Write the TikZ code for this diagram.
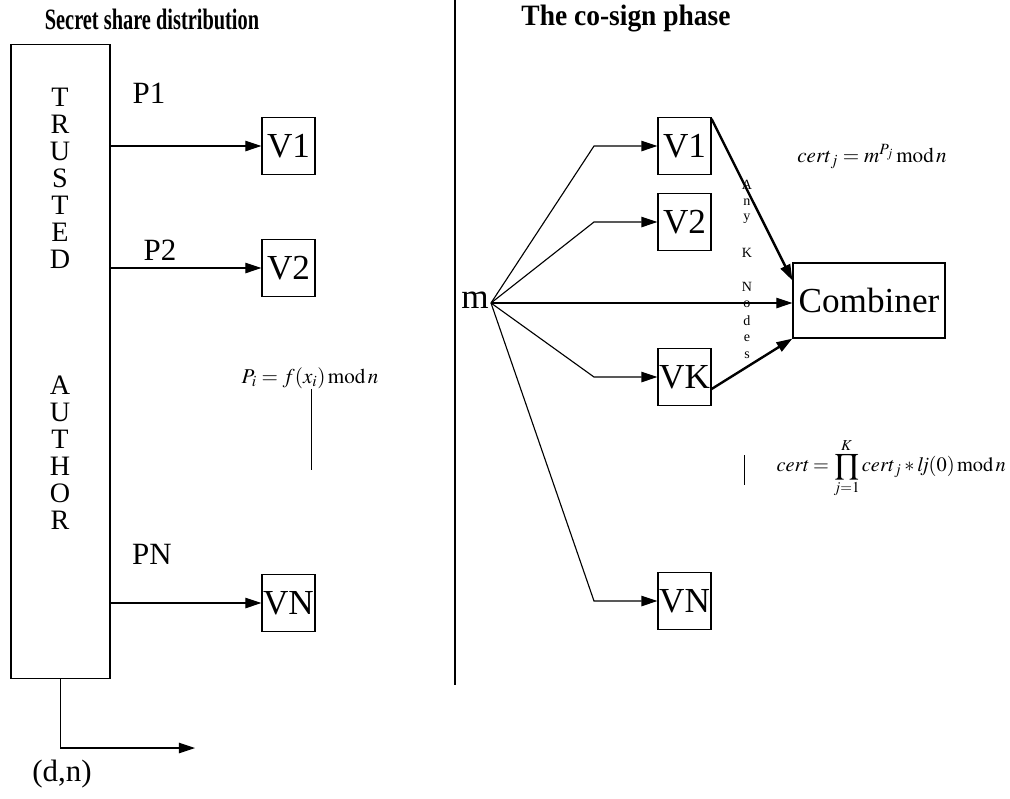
\documentclass[tikz,border=0pt]{standalone}
\usepackage{mathptmx}
\usepackage{fontspec}
\setmainfont{Liberation Serif}
\usepackage{graphicx}
\usetikzlibrary{arrows.meta}

\begin{document}
\begin{tikzpicture}[x = 0.025cm,
    y = -0.025cm,
    line width = 0.8pt,
    >={Triangle[length=4mm,width=2.6mm]}]
    % styles of boxes and texts
    \tikzset{vbox/.style={draw,minimum width=13.25mm,minimum height=14.25mm,inner sep=0pt,font=\fontsize{25}{25}\selectfont},
      plabel/.style={inner sep=0pt,font=\fontsize{22}{22}\selectfont},
      titlestyle/.style={inner sep=0pt,font=\bfseries\fontsize{21}{21}\selectfont},
      letterstyle/.style={inner sep=0pt,font=\fontsize{20}{20}\selectfont},
      smallletter/.style={inner sep=0pt,font=\fontsize{10}{10}\selectfont},
      formula/.style={inner sep=0pt,font=\fontsize{15}{15}\selectfont},
      thickarrow/.style={->,line width=1.7pt}}
    \useasboundingbox (0,0) rectangle (1010,798);
    % titles
    \node[titlestyle] (title1) at (152,19) {\scalebox{0.69}[1]{Secret share distribution}};
    \node[titlestyle] (title2) at (626,19) {\scalebox{0.93}[1]{The co-sign phase}};
    % divider
    \coordinate (divtop) at (455,0);
    \coordinate (divbot) at (455,685);
    \draw (divtop) -- (divbot);
    % box "trusted author"
    \node[draw,minimum width=24.75mm,minimum height=158.25mm,inner sep=0pt] (ta) at (60.5,361.5) {};
    \foreach \ch [count=\i] in {T,R,U,S,T,E,D}
      \node[letterstyle] (tup\i) at (60,70+27*\i) {\ch};
    \foreach \ch [count=\i] in {A,U,T,H,O,R}
      \node[letterstyle] (tlo\i) at (60,358+27*\i) {\ch};
    % shares to the nodes
    \node[vbox] (lv1) at (288.5,146) {V1};
    \node[vbox] (lv2) at (288.5,268) {V2};
    \node[vbox] (lvn) at (288.5,603) {VN};
    \draw[->] (lv1.west -| ta.east) -- (lv1.west);
    \draw[->] (lv2.west -| ta.east) -- (lv2.west);
    \draw[->] (lvn.west -| ta.east) -- (lvn.west);
    \node[plabel] (p1) at (149,93) {P1};
    \node[plabel] (p2) at (160,250) {P2};
    \node[plabel] (pn) at (152,554) {PN};
    \node[formula] (pform) at (310,378) {$P_i = f(x_i)\,\mathrm{mod}\,n$};
    \coordinate (pline) at (311,470);
    \draw[line width=0.5pt] (pform.south -| pline) -- (pline);
    % public key
    \coordinate (dnend) at (195,748);
    \draw[->] (ta.south) |- (dnend);
    \node[plabel] (dn) at (62,774) {(d,n)};
    % co-sign phase
    \node[inner sep=0pt,font=\fontsize{25}{25}\selectfont] (m) at (475,300) {m};
    \coordinate (fan) at (491,303);
    \coordinate (bend) at (594,0);
    \node[vbox] (rv1) at (684.5,146) {V1};
    \node[vbox] (rv2) at (684.5,222) {V2};
    \node[vbox] (rvk) at (684.5,377) {VK};
    \node[vbox] (rvn) at (684.5,601) {VN};
    \node[draw,minimum width=38mm,minimum height=18.75mm,inner sep=0pt,font=\fontsize{25}{25}\selectfont] (comb) at (869,300.5) {Combiner};
    \draw[->] (fan) -- (bend |- rv1.west) -- (rv1.west);
    \draw[->] (fan) -- (bend |- rv2.west) -- (rv2.west);
    \draw[->] (fan) -- (bend |- rvk.west) -- (rvk.west);
    \draw[->] (fan) -- (bend |- rvn.west) -- (rvn.west);
    \draw[->] (fan) -- (fan -| comb.west);
    \draw[thickarrow] ([yshift=-0.5mm]rv1.north east) -- ([yshift=-4.5mm]comb.north west);
    \draw[thickarrow] ([yshift=-3mm]rvk.east) -- (comb.south west);
    % any K nodes
    \foreach \ch [count=\i] in {A,n,y,{},K,{},N,o,d,e,s}
      \node[smallletter] (any\i) at (747,168+17*\i) {\ch};
    \node[formula] (certj) at (872,157) {$\mathit{cert}_j = m^{P_j}\,\mathrm{mod}\,n$};
    \node[formula,anchor=west,font=\fontsize{14.5}{14.5}\selectfont] (cert) at (776,468) {$\mathit{cert} = \displaystyle\prod_{j=1}^{K}\mathit{cert}_j * \mathit{lj}(0)\,\mathrm{mod}\,n$};
    \coordinate (ctop) at (744,455);
    \coordinate (cbot) at (744,485);
    \draw[line width=0.5pt] (ctop) -- (cbot);
  \end{tikzpicture}
\end{document}
